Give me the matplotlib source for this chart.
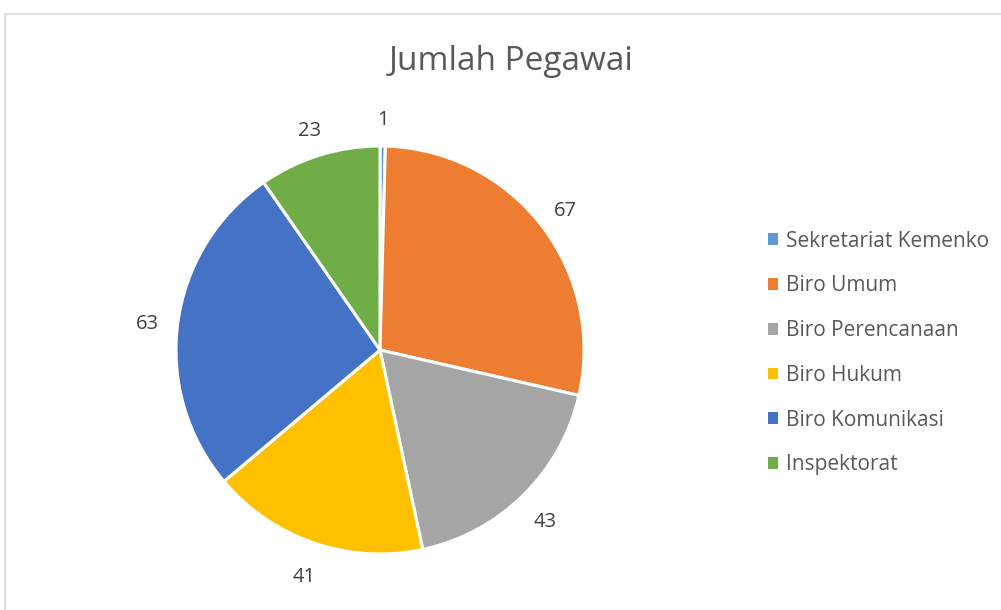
import matplotlib
matplotlib.use("Agg")
import matplotlib.pyplot as plt
import numpy as np
from matplotlib.patches import Rectangle

categories = ["Sekretariat Kemenko", "Biro Umum", "Biro Perencanaan", "Biro Hukum", "Biro Komunikasi", "Inspektorat"]
values = [1, 67, 43, 41, 63, 23]
colors = ["#5B9BD5", "#ED7D31", "#A5A5A5", "#FFC000", "#4472C4", "#70AD47"]
title = "Jumlah Pegawai"

plt.rcParams['font.family'] = ['Open Sans', 'DejaVu Sans']
W, H = 1001, 610
fig = plt.figure(figsize=(W / 100, H / 100), dpi=100)
ax = fig.add_axes([0, 0, 1, 1])

cx, cy, r = 380, H - 350, 204
wedges, _ = ax.pie(values, colors=colors, startangle=90, counterclock=False,
                   center=(cx, cy), radius=r, frame=True,
                   wedgeprops=dict(edgecolor="white", linewidth=2.2))
ax.set_xlim(0, W)
ax.set_ylim(0, H)
ax.set_aspect('equal')
ax.axis('off')

# chart border
ax.add_patch(Rectangle((4.5, -10), 1100, H - 13.5 + 10, fill=False, edgecolor="#D9D9D9", linewidth=1.2))

label_dist = 1.15
for w, v in zip(wedges, values):
    ang = np.deg2rad((w.theta1 + w.theta2) / 2)
    x = cx + label_dist * r * np.cos(ang)
    y = cy + label_dist * r * np.sin(ang) - 5
    ax.text(x, y, str(v), ha='center', va='center', fontsize=14.5, color="#404040")

ax.text(511, H - 61, title, ha='center', va='center', fontsize=24, color="#595959")

leg = ax.legend(wedges, categories, loc='center left', bbox_to_anchor=(749, H - 353),
                bbox_transform=ax.transData, frameon=False, fontsize=15,
                handlelength=0.48, handleheight=0.48, handletextpad=0.4,
                labelspacing=1.14, labelcolor="#595959")
for h in leg.legend_handles:
    h.set_edgecolor("none")

fig.savefig("out.png", dpi=100)
